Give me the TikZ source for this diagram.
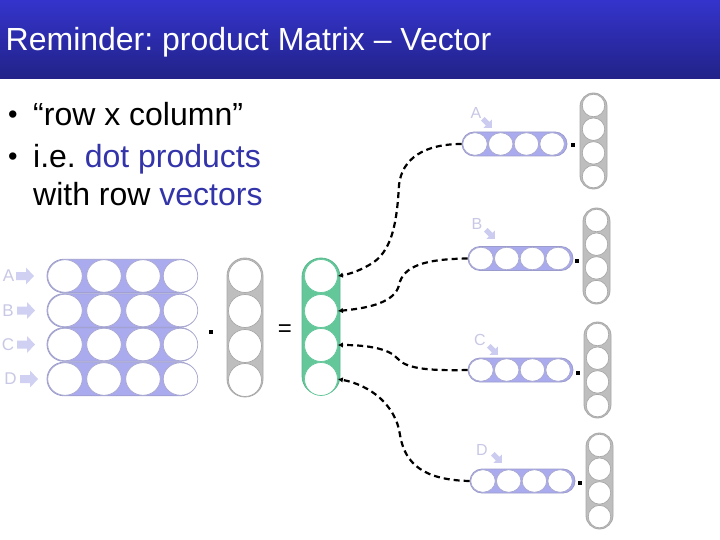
\documentclass[tikz,border=0pt]{standalone}
\usepackage{fontspec}
\setmainfont{Liberation Sans}
\usetikzlibrary{arrows.meta,shapes.geometric}
\definecolor{ttop}{HTML}{3434CC}
\definecolor{tbot}{HTML}{222288}
\definecolor{tblue}{HTML}{3333AA}
\definecolor{lavfill}{HTML}{AAAAEE}
\definecolor{lavline}{HTML}{9C9CCC}
\definecolor{lavcirc}{HTML}{A8A8D0}
\definecolor{lablav}{HTML}{C8C8E6}
\definecolor{arrlav}{HTML}{D0D0F2}
\definecolor{grayfill}{HTML}{BEBEBE}
\definecolor{grayline}{HTML}{A8A8A8}
\definecolor{greenfill}{HTML}{63C79A}
\definecolor{greenline}{HTML}{58B88C}
\frenchspacing
\begin{document}
\begin{tikzpicture}[x=1pt,y=-1pt,
  lavcap/.style={draw=lavline, fill=lavfill, line width=0.8pt, inner sep=0pt},
  lavdot/.style={ellipse, draw=lavcirc, fill=white, line width=0.7pt, inner sep=0pt},
  graycap/.style={draw=grayline, fill=grayfill, line width=0.8pt, inner sep=0pt},
  graydot/.style={circle, draw=grayline, fill=white, line width=0.7pt, inner sep=0pt},
  greencap/.style={draw=greenline, fill=greenfill, line width=0.8pt, inner sep=0pt},
  greendot/.style={circle, draw=greenfill, fill=white, line width=0.7pt, inner sep=0pt, minimum size=33pt},
  conn/.style={black, line width=2.2pt, dash pattern=on 6pt off 4pt, -{Latex[length=5pt,width=5.5pt]}},
  mult/.style={fill=black, inner sep=0pt, minimum size=3.2pt},
  biglab/.style={text=lablav, font=\fontsize{17}{20}\selectfont, inner sep=0pt},
  smalllab/.style={text=lablav, font=\fontsize{16}{19}\selectfont, inner sep=0pt},
  bodytext/.style={anchor=base west, inner sep=0pt, font=\fontsize{32}{38}\selectfont},
  bullettext/.style={anchor=base west, inner sep=0pt, font=\fontsize{27}{30}\selectfont},
  rarr/.pic={\fill[arrlav] (0,-4) -- (10,-4) -- (10,-8.5) -- (18,0) -- (10,8.5) -- (10,4) -- (0,4) -- cycle;},
  darr/.pic={\fill[arrlav!90!lavfill] (-2.47,-6.01) -- (2.47,-1.06) -- (4.95,-3.54) -- (4.95,4.95) -- (-3.54,4.95) -- (-1.06,2.47) -- (-6.01,-2.47) -- cycle;}
]
\useasboundingbox (0,0) rectangle (720,540);
\fill[white] (0,0) rectangle (720,540);
% title bar
\shade[top color=ttop, bottom color=tbot] (0,0) rectangle (720,79);
\node[anchor=base west, inner sep=0pt, text=white, font=\fontsize{32}{38}\selectfont] (title) at (5.5,51) {Reminder: product Matrix – Vector};
% bullets
\node[bullettext] (b1) at (8,124) {•};
\node[bodytext] (t1) at (33,126) {“row x column”};
\node[bullettext] (b2) at (8,166) {•};
\node[bodytext] (t2) at (33,168) {i.e. \textcolor{tblue}{dot products}};
\node[bodytext] (t3) at (33,206) {with row \textcolor{tblue}{vectors}};
% matrix
\foreach \n/\cy/\lx/\ax in {A/276/8.5/16, B/310.5/8/17, C/344.5/8/17, D/379/10.5/20}{
  \node[lavcap, rounded corners=16.75pt, minimum width=150pt, minimum height=33.5pt] (m\n) at (122,\cy) {};
  \foreach \cx in {65,104,143,180.5}{
    \node[lavdot, minimum width=34.5pt, minimum height=32.5pt] at (\cx,\cy) {};
  }
  \node[biglab] (ml\n) at (\lx,\cy) {\n};
  \pic at (\ax,\cy) {rarr};
}
% multiplication dot and vector
\node[mult] (dot0) at (211,332) {};
\node[graycap, rounded corners=18pt, minimum width=36pt, minimum height=139pt] (vg) at (245,327.5) {};
\foreach \cy in {276,311,346,380}{
  \node[graydot, minimum size=33pt] at (245,\cy) {};
}
\node[inner sep=0pt, font=\fontsize{24}{28}\selectfont] (eq) at (285,331) {=};
% result vector
\node[greencap, rounded corners=19pt, minimum width=38pt, minimum height=137pt] (vr) at (321,326.5) {};
\node[greendot] (g1) at (321,276) {};
\node[greendot] (g2) at (321,311) {};
\node[greendot] (g3) at (321,345) {};
\node[greendot] (g4) at (321,379) {};
% right side dot products
\foreach \n/\l/\cy/\colx/\ctop/\dx/\dy/\lx/\ly/\axx/\ayy in {
  A/462/144/593.5/93/573/145/476/113/487/123,
  B/468/258.5/596.5/208/577/261/477/224/490/234,
  C/468/370/597.5/322/578/373/480/340/493/350,
  D/470/481/599.5/433/580/483/482/450/497/458}{
  \node[lavcap, rounded corners=12pt, minimum width=105pt, minimum height=24pt] (r\n) at (\l+52.5,\cy) {};
  \foreach \k in {0,1,2,3}{
    \node[lavdot, minimum width=24.5pt, minimum height=22.5pt] at (\l+13+\k*25.7,\cy) {};
  }
  \node[mult] (d\n) at (\dx,\dy) {};
  \node[graycap, rounded corners=13.5pt, minimum width=27pt, minimum height=96pt] (c\n) at (\colx,\ctop+48) {};
  \foreach \k in {0,1,2,3}{
    \node[graydot, minimum size=22.5pt] at (\colx,\ctop+12.5+\k*23.7) {};
  }
  \node[smalllab] (l\n) at (\lx,\ly) {\n};
  \pic at (\axx,\ayy) {darr};
}
% connectors
\draw[conn] (rA.west) .. controls (425,144) and (402,158) .. (399,185)
  .. controls (397,220) and (393,248) .. (374,262)
  .. controls (362,270) and (350,274) .. (g1.east);
\draw[conn] (rB.west) .. controls (425,259) and (403,266) .. (399,285)
  .. controls (395,302) and (370,308) .. (g2.east);
\draw[conn] (rC.west) .. controls (425,371) and (405,368) .. (397,358)
  .. controls (388,348) and (365,345) .. (g3.east);
\draw[conn] (rD.west) .. controls (425,480) and (405,465) .. (400,435)
  .. controls (396,405) and (370,385) .. (g4.east);
\end{tikzpicture}
\end{document}
